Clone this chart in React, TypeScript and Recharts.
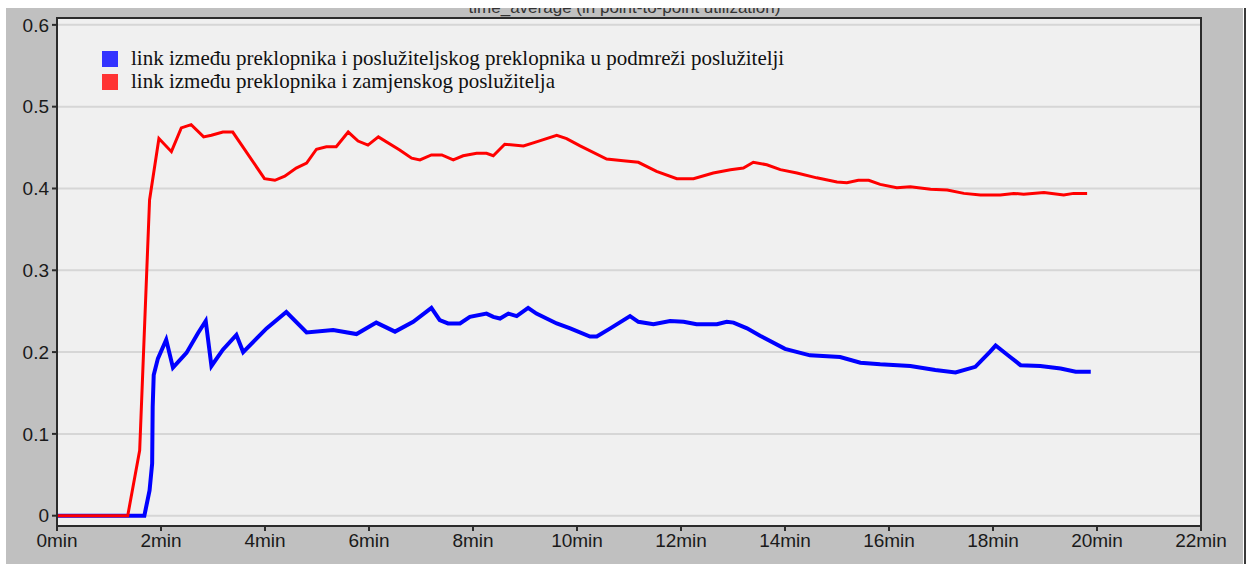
import { LineChart, Line, XAxis, YAxis, CartesianGrid } from 'recharts'

// vrijeme u minutama / iskorištenost linka
const redTimes = [
  0, 1.36, 1.59, 1.78, 1.96, 2.2, 2.39, 2.58, 2.82, 2.97, 3.19, 3.38, 3.99, 4.19,
  4.38, 4.6, 4.8, 4.99, 5.18, 5.37, 5.6, 5.79, 5.98, 6.18, 6.59, 6.82, 6.98, 7.2,
  7.4, 7.62, 7.81, 8.07, 8.26, 8.39, 8.61, 8.97, 9.22, 9.61, 9.8, 10.06, 10.57,
  10.89, 11.18, 11.53, 11.92, 12.24, 12.62, 12.95, 13.2, 13.39, 13.65, 13.91,
  14.23, 14.61, 15.0, 15.19, 15.41, 15.61, 15.83, 16.15, 16.41, 16.8, 17.12,
  17.44, 17.76, 18.14, 18.4, 18.59, 18.98, 19.36, 19.55, 19.81,
]
const redValues = [
  0, 0, 0.08, 0.386, 0.461, 0.445, 0.474, 0.478, 0.463, 0.465, 0.469, 0.469,
  0.412, 0.41, 0.415, 0.425, 0.431, 0.448, 0.451, 0.451, 0.469, 0.458, 0.453,
  0.463, 0.447, 0.437, 0.435, 0.441, 0.441, 0.435, 0.44, 0.443, 0.443, 0.44,
  0.454, 0.452, 0.457, 0.465, 0.461, 0.452, 0.436, 0.434, 0.432, 0.421, 0.412,
  0.412, 0.419, 0.423, 0.425, 0.432, 0.429, 0.423, 0.419, 0.413, 0.408, 0.407,
  0.41, 0.41, 0.405, 0.401, 0.402, 0.399, 0.398, 0.394, 0.392, 0.392, 0.394,
  0.393, 0.395, 0.392, 0.394, 0.394,
]

const blueTimes = [
  0, 1.68, 1.78, 1.83, 1.84, 1.86, 1.94, 2.1, 2.23, 2.49, 2.71, 2.86, 2.97, 3.19,
  3.45, 3.58, 4.03, 4.41, 4.8, 5.31, 5.76, 6.14, 6.5, 6.85, 7.2, 7.36, 7.52,
  7.75, 7.94, 8.26, 8.39, 8.52, 8.68, 8.84, 9.06, 9.22, 9.61, 9.87, 10.25,
  10.38, 10.64, 11.02, 11.18, 11.47, 11.79, 12.05, 12.3, 12.69, 12.88, 13.01,
  13.27, 13.52, 14.0, 14.48, 15.06, 15.45, 15.83, 16.41, 16.89, 17.28, 17.66,
  17.95, 18.05, 18.33, 18.53, 18.91, 19.3, 19.59, 19.88,
]
const blueValues = [
  0, 0, 0.031, 0.064, 0.133, 0.172, 0.192, 0.215, 0.181, 0.199, 0.223, 0.238,
  0.183, 0.203, 0.221, 0.2, 0.229, 0.249, 0.224, 0.227, 0.222, 0.236, 0.225,
  0.237, 0.254, 0.239, 0.235, 0.235, 0.243, 0.247, 0.243, 0.241, 0.247, 0.244,
  0.254, 0.247, 0.235, 0.229, 0.219, 0.219, 0.229, 0.244, 0.237, 0.234, 0.238,
  0.237, 0.234, 0.234, 0.237, 0.236, 0.229, 0.22, 0.204, 0.196, 0.194, 0.187,
  0.185, 0.183, 0.178, 0.175, 0.182, 0.201, 0.208, 0.194, 0.184, 0.183, 0.18,
  0.176, 0.176,
]

const xTicks = [0, 2, 4, 6, 8, 10, 12, 14, 16, 18, 20, 22]
const yTicks = [0, 0.1, 0.2, 0.3, 0.4, 0.5, 0.6]

const seriesNames = [
  'link između preklopnika i poslužiteljskog preklopnika u podmreži poslužitelji',
  'link između preklopnika i zamjenskog poslužitelja',
]
const seriesColors = ['#0000ff', '#ff0000']
const legendColors = ['#3333ff', '#ff3333']

const title = 'time_average (in point-to-point utilization)'

const blueData = blueTimes.map((t, i) => ({ t, v: blueValues[i] }))
const redData = redTimes.map((t, i) => ({ t, v: redValues[i] }))

const tickStyle = {
  fill: '#1a1a1a',
  fontSize: 19,
  fontFamily: "'Liberation Sans', Arial, sans-serif",
}

export default function App() {
  return (
    <div
      style={{
        position: 'absolute',
        left: 0,
        top: 0,
        width: 1248,
        height: 564,
        background: '#fff',
        overflow: 'hidden',
      }}
    >
      {/* sivi okvir prozora */}
      <div
        style={{
          position: 'absolute',
          left: 6,
          top: 8,
          width: 1237,
          height: 556,
          background: '#c0c0c0',
          overflow: 'hidden',
        }}
      >
        <div
          style={{
            position: 'absolute',
            left: 0,
            width: 1237,
            top: -10,
            textAlign: 'center',
            fontFamily: "'Liberation Sans', Arial, sans-serif",
            fontSize: 17,
            color: '#333',
            lineHeight: '20px',
          }}
        >
          {title}
        </div>
      </div>
      <div
        style={{
          position: 'absolute',
          left: 1244,
          top: 8,
          width: 2,
          height: 556,
          background: '#3a3a3a',
        }}
      />

      <div style={{ position: 'absolute', left: 0, top: 0 }}>
        <LineChart
          width={1248}
          height={564}
          margin={{ top: 18, right: 47, bottom: 8, left: 7 }}
        >
          <CartesianGrid
            vertical={false}
            fill='#f0f0f0'
            stroke='#d6d6d6'
            strokeWidth={2}
          />
          <XAxis
            type='number'
            dataKey='t'
            domain={[0, 22]}
            ticks={xTicks}
            tickFormatter={(v) => `${v}min`}
            height={30}
            tickSize={5}
            tickMargin={3}
            tick={tickStyle}
            axisLine={{ stroke: '#2b2b2b', strokeWidth: 2 }}
            tickLine={{ stroke: '#2b2b2b', strokeWidth: 2 }}
            allowDataOverflow
          />
          <YAxis
            type='number'
            dataKey='v'
            domain={[-0.0126, 0.6084]}
            ticks={yTicks}
            tickFormatter={(v) => String(v)}
            width={50}
            tickSize={5}
            tickMargin={3}
            tick={tickStyle}
            axisLine={{ stroke: '#2b2b2b', strokeWidth: 2 }}
            tickLine={{ stroke: '#2b2b2b', strokeWidth: 2 }}
            allowDataOverflow
          />
          <Line
            data={blueData}
            dataKey='v'
            name={seriesNames[0]}
            type='linear'
            stroke={seriesColors[0]}
            strokeWidth={4}
            dot={false}
            isAnimationActive={false}
          />
          <Line
            data={redData}
            dataKey='v'
            name={seriesNames[1]}
            type='linear'
            stroke={seriesColors[1]}
            strokeWidth={3}
            dot={false}
            isAnimationActive={false}
          />
        </LineChart>
      </div>

      {/* okvir područja grafa */}
      <div
        style={{
          position: 'absolute',
          left: 56,
          top: 17,
          width: 1146,
          height: 510,
          border: '2px solid #2b2b2b',
          boxSizing: 'border-box',
          pointerEvents: 'none',
        }}
      />

      {/* legenda */}
      <div
        style={{
          position: 'absolute',
          left: 102,
          top: 47,
          fontFamily: "'Liberation Serif', 'Times New Roman', serif",
          fontSize: 21,
          color: '#111',
        }}
      >
        {seriesNames.map((name, idx) => (
          <div
            key={name}
            style={{
              display: 'flex',
              alignItems: 'center',
              height: 23,
            }}
          >
            <div
              style={{
                width: 16,
                height: 16,
                marginRight: 13,
                backgroundColor: legendColors[idx],
              }}
            />
            <span style={{ whiteSpace: 'nowrap' }}>{name}</span>
          </div>
        ))}
      </div>
    </div>
  )
}
